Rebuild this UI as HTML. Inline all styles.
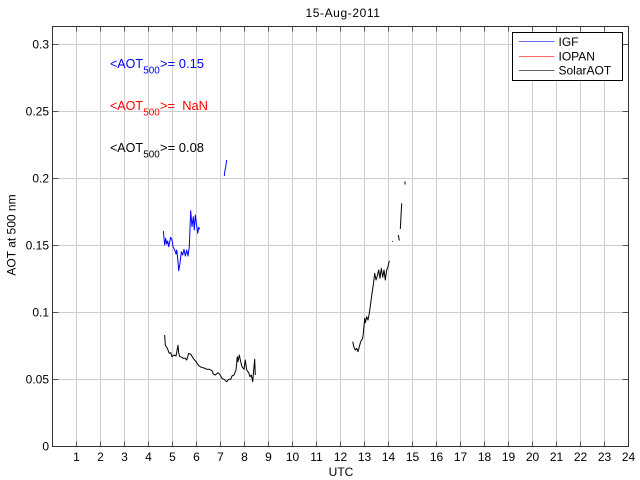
<!DOCTYPE html>
<html>
<head>
<meta charset="utf-8">
<style>
  html,body{margin:0;padding:0;background:#fff;}
  svg{display:block;}
  text{font-family:"Liberation Sans",Arial,sans-serif;}
</style>
</head>
<body>
<svg width="640" height="480" viewBox="0 0 640 480" xmlns="http://www.w3.org/2000/svg">
  <rect x="0" y="0" width="640" height="480" fill="#fff"/>

  <!-- vertical grid lines -->
  <g stroke="#cfcfcf" stroke-width="1">
    <line x1="76.5" y1="26.5" x2="76.5" y2="446.5"/>
    <line x1="100.5" y1="26.5" x2="100.5" y2="446.5"/>
    <line x1="124.5" y1="26.5" x2="124.5" y2="446.5"/>
    <line x1="148.5" y1="26.5" x2="148.5" y2="446.5"/>
    <line x1="172.5" y1="26.5" x2="172.5" y2="446.5"/>
    <line x1="196.5" y1="26.5" x2="196.5" y2="446.5"/>
    <line x1="220.5" y1="26.5" x2="220.5" y2="446.5"/>
    <line x1="244.5" y1="26.5" x2="244.5" y2="446.5"/>
    <line x1="268.5" y1="26.5" x2="268.5" y2="446.5"/>
    <line x1="292.5" y1="26.5" x2="292.5" y2="446.5"/>
    <line x1="316.5" y1="26.5" x2="316.5" y2="446.5"/>
    <line x1="340.5" y1="26.5" x2="340.5" y2="446.5"/>
    <line x1="364.5" y1="26.5" x2="364.5" y2="446.5"/>
    <line x1="388.5" y1="26.5" x2="388.5" y2="446.5"/>
    <line x1="412.5" y1="26.5" x2="412.5" y2="446.5"/>
    <line x1="436.5" y1="26.5" x2="436.5" y2="446.5"/>
    <line x1="460.5" y1="26.5" x2="460.5" y2="446.5"/>
    <line x1="484.5" y1="26.5" x2="484.5" y2="446.5"/>
    <line x1="508.5" y1="26.5" x2="508.5" y2="446.5"/>
    <line x1="532.5" y1="26.5" x2="532.5" y2="446.5"/>
    <line x1="556.5" y1="26.5" x2="556.5" y2="446.5"/>
    <line x1="580.5" y1="26.5" x2="580.5" y2="446.5"/>
    <line x1="604.5" y1="26.5" x2="604.5" y2="446.5"/>
  </g>
  <!-- horizontal grid lines -->
  <g stroke="#cfcfcf" stroke-width="1">
    <line x1="52.5" y1="379.5" x2="628.5" y2="379.5"/>
    <line x1="52.5" y1="312.5" x2="628.5" y2="312.5"/>
    <line x1="52.5" y1="245.5" x2="628.5" y2="245.5"/>
    <line x1="52.5" y1="178.5" x2="628.5" y2="178.5"/>
    <line x1="52.5" y1="111.5" x2="628.5" y2="111.5"/>
    <line x1="52.5" y1="44.5" x2="628.5" y2="44.5"/>
  </g>

  <!-- tick marks -->
  <g stroke="#555" stroke-width="1">
    <path d="M76.5 446.5V441.5M100.5 446.5V441.5M124.5 446.5V441.5M148.5 446.5V441.5M172.5 446.5V441.5M196.5 446.5V441.5M220.5 446.5V441.5M244.5 446.5V441.5M268.5 446.5V441.5M292.5 446.5V441.5M316.5 446.5V441.5M340.5 446.5V441.5M364.5 446.5V441.5M388.5 446.5V441.5M412.5 446.5V441.5M436.5 446.5V441.5M460.5 446.5V441.5M484.5 446.5V441.5M508.5 446.5V441.5M532.5 446.5V441.5M556.5 446.5V441.5M580.5 446.5V441.5M604.5 446.5V441.5"/>
    <path d="M76.5 26.5V31.5M100.5 26.5V31.5M124.5 26.5V31.5M148.5 26.5V31.5M172.5 26.5V31.5M196.5 26.5V31.5M220.5 26.5V31.5M244.5 26.5V31.5M268.5 26.5V31.5M292.5 26.5V31.5M316.5 26.5V31.5M340.5 26.5V31.5M364.5 26.5V31.5M388.5 26.5V31.5M412.5 26.5V31.5M436.5 26.5V31.5M460.5 26.5V31.5M484.5 26.5V31.5M508.5 26.5V31.5M532.5 26.5V31.5M556.5 26.5V31.5M580.5 26.5V31.5M604.5 26.5V31.5"/>
    <path d="M52.5 379.5H58.5M52.5 312.5H58.5M52.5 245.5H58.5M52.5 178.5H58.5M52.5 111.5H58.5M52.5 44.5H58.5"/>
    <path d="M628.5 379.5H622.5M628.5 312.5H622.5M628.5 245.5H622.5M628.5 178.5H622.5M628.5 111.5H622.5M628.5 44.5H622.5"/>
  </g>

  <!-- axes box -->
  <rect x="52.5" y="26.5" width="576" height="420" fill="none" stroke="#333" stroke-width="1"/>

  <!-- data: IGF (blue) -->
  <g fill="none" stroke="#0000ff" stroke-width="1" stroke-linejoin="round">
    <polyline points="163.3,231 164.7,245 165.7,238.3 166.7,244 167.7,241 168.7,246.7 170.7,237.3 172,240 173,246.7 174.7,250 176,254 176.7,250 177.7,258.3 178.7,270.7 180,263.3 181.3,251.7 182.7,255 184,249.3 185.3,256 186.7,250 188,256 189.3,246.7 190.7,210.7 192,226.7 193.3,216.7 194.3,230 195.3,215 196.7,226 197.7,233.3 198.7,227.3 199.7,229.3"/>
    <polyline points="224.3,176 225,170 225.6,168 226.2,163 226.7,160"/>
  </g>

  <!-- data: SolarAOT (black) -->
  <g fill="none" stroke="#000" stroke-width="1" stroke-linejoin="round">
    <polyline points="164.7,335 165.3,345 167.3,348.3 169.3,353.3 170.7,352.7 172,356.7 174,355 176,356 178,345.3 178.7,353.3 180,356.7 182,357.3 183.3,358.3 185.3,358.3 186.7,360 188.7,353.3 190.7,354.3 193.3,358.3 196,361.7 198.7,365.7 201.3,367.3 204,368 206.7,369.3 209.3,369.3 212,370.7 213.3,374 215.3,375 218,372.7 220,374.7 222,378.3 224,379.3 226.7,381.7 228.7,379.3 230.7,379.3 232,376 234,375 236,370 237.3,356.7 238,361.7 239.3,355 240.7,361.7 242,366.7 244,369.3 245.3,360 246.7,370 248.7,372.7 250,376.7 251.3,375 252.7,381.7 254,366.7 254.7,359.3 255.3,375"/>
    <polyline points="352.7,341.7 354,347.3 355.3,350 356.7,348.3 358,351.7 359.3,346.7 360.7,341.7 362.7,338.3 363.3,333.3 364.7,318.3 365.3,322.7 366.7,316.7 368,320 369.3,313.3 370.7,303.3 372,293.3 373.3,285 374.7,273.3 376,280 377.3,276 378.7,270 380,278.3 381.3,268.3 382.7,277.3 384,270 385.3,280 386.7,270 388,266.7 389.3,260.7"/>
    <line x1="392.3" y1="241.7" x2="392.8" y2="241"/>
    <line x1="398.3" y1="235" x2="399.3" y2="240.5"/>
    <polyline points="400.3,229 400.8,220 401.2,212 401.7,203.3"/>
    <line x1="404.8" y1="181.5" x2="405.2" y2="184.5"/>
  </g>

  <!-- y tick labels -->
  <g font-size="12" fill="#000" text-anchor="end">
    <text x="49" y="450.5">0</text>
    <text x="49" y="383.5">0.05</text>
    <text x="49" y="316.5">0.1</text>
    <text x="49" y="249.5">0.15</text>
    <text x="49" y="182.5">0.2</text>
    <text x="49" y="115.5">0.25</text>
    <text x="49" y="48.5">0.3</text>
  </g>

  <!-- x tick labels -->
  <g font-size="12" fill="#000" text-anchor="middle">
    <text x="76.5" y="461">1</text>
    <text x="100.5" y="461">2</text>
    <text x="124.5" y="461">3</text>
    <text x="148.5" y="461">4</text>
    <text x="172.5" y="461">5</text>
    <text x="196.5" y="461">6</text>
    <text x="220.5" y="461">7</text>
    <text x="244.5" y="461">8</text>
    <text x="268.5" y="461">9</text>
    <text x="292.5" y="461">10</text>
    <text x="316.5" y="461">11</text>
    <text x="340.5" y="461">12</text>
    <text x="364.5" y="461">13</text>
    <text x="388.5" y="461">14</text>
    <text x="412.5" y="461">15</text>
    <text x="436.5" y="461">16</text>
    <text x="460.5" y="461">17</text>
    <text x="484.5" y="461">18</text>
    <text x="508.5" y="461">19</text>
    <text x="532.5" y="461">20</text>
    <text x="556.5" y="461">21</text>
    <text x="580.5" y="461">22</text>
    <text x="604.5" y="461">23</text>
    <text x="628.5" y="461">24</text>
  </g>

  <!-- axis labels and title -->
  <text x="341" y="476" font-size="12" text-anchor="middle" fill="#000">UTC</text>
  <text x="343" y="17" font-size="12" text-anchor="middle" fill="#000" letter-spacing="0.6">15-Aug-2011</text>
  <text transform="translate(15.5,235) rotate(-90)" font-size="12" text-anchor="middle" fill="#000">AOT at 500 nm</text>

  <!-- annotations -->
  <g fill="#0000ff">
    <text x="110" y="68" font-size="12.5" textLength="33" lengthAdjust="spacingAndGlyphs">&lt;AOT</text>
    <text x="143.3" y="73.5" font-size="10" textLength="16.5" lengthAdjust="spacingAndGlyphs">500</text>
    <text x="160" y="68" font-size="12.5" textLength="44" lengthAdjust="spacingAndGlyphs">&gt;= 0.15</text>
  </g>
  <g fill="#ff0000">
    <text x="110" y="110" font-size="12.5" textLength="33" lengthAdjust="spacingAndGlyphs">&lt;AOT</text>
    <text x="143.3" y="115.5" font-size="10" textLength="16.5" lengthAdjust="spacingAndGlyphs">500</text>
    <text x="160" y="110" font-size="12.5" textLength="48" lengthAdjust="spacingAndGlyphs" xml:space="preserve">&gt;=  NaN</text>
  </g>
  <g fill="#000">
    <text x="110" y="152" font-size="12.5" textLength="33" lengthAdjust="spacingAndGlyphs">&lt;AOT</text>
    <text x="143.3" y="157.5" font-size="10" textLength="16.5" lengthAdjust="spacingAndGlyphs">500</text>
    <text x="160" y="152" font-size="12.5" textLength="44" lengthAdjust="spacingAndGlyphs">&gt;= 0.08</text>
  </g>

  <!-- legend -->
  <rect x="512.5" y="32.5" width="110" height="48" fill="#fff" stroke="#000" stroke-width="1"/>
  <line x1="519" y1="41.5" x2="554.5" y2="41.5" stroke="#6a6aff" stroke-width="1"/>
  <line x1="519" y1="56.5" x2="554.5" y2="56.5" stroke="#ff6a6a" stroke-width="1"/>
  <line x1="519" y1="70.5" x2="554.5" y2="70.5" stroke="#666" stroke-width="1"/>
  <g font-size="12" fill="#000">
    <text x="558.5" y="46">IGF</text>
    <text x="558.5" y="60.5">IOPAN</text>
    <text x="558.5" y="74.5">SolarAOT</text>
  </g>
</svg>
</body>
</html>
